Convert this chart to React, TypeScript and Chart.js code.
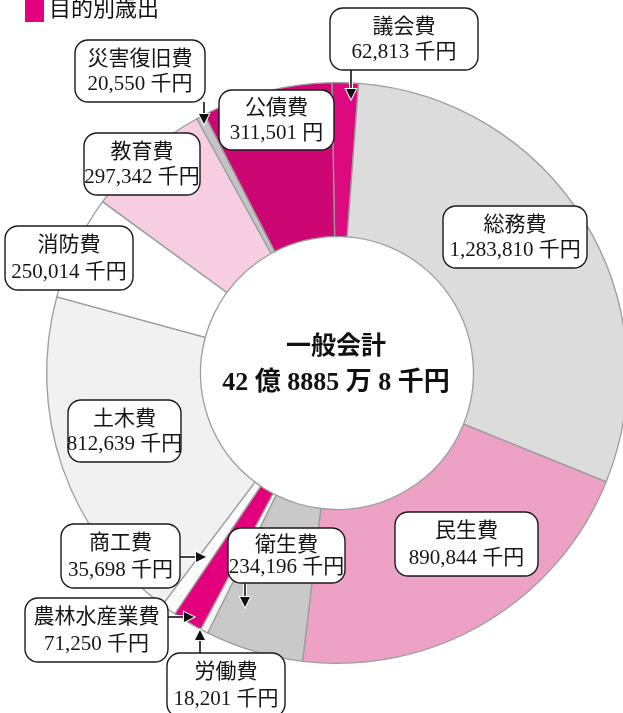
import React, { useEffect, useRef } from "react";
import { Chart, registerables } from "chart.js";

Chart.register(...registerables);

const categories = ["議会費", "総務費", "民生費", "衛生費", "労働費", "農林水産業費", "商工費", "土木費", "消防費", "教育費", "災害復旧費", "公債費"];
const values = [62813, 1283810, 890844, 234196, 18201, 71250, 35698, 812639, 250014, 297342, 20550, 311501];
const units = ["千円", "千円", "千円", "千円", "千円", "千円", "千円", "千円", "千円", "千円", "千円", "円"];
const colors = ["#dc0a7e", "#dcdcdc", "#eda2c5", "#c9c9c9", "#f4f4f4", "#e2007c", "#fbfbfb", "#f1f1f1", "#ffffff", "#f6cde1", "#c4c4c4", "#cc0672"];

const titleText = "目的別歳出";
const centerTitle = "一般会計";
const centerTotal = "42 億 8885 万 8 千円";

// label box layout (pixels) and arrow [from, to]
const boxLayout: { x: number; y: number; w: number; h: number; arrow?: number[] }[] = [
  { x: 330, y: 8, w: 148, h: 62, arrow: [351, 70, 351, 99] },
  { x: 443, y: 206, w: 144, h: 62 },
  { x: 395, y: 512, w: 143, h: 64 },
  { x: 228, y: 528, w: 117, h: 55, arrow: [245, 583, 245, 607] },
  { x: 167, y: 653, w: 118, h: 64, arrow: [200, 653, 200, 630] },
  { x: 25, y: 598, w: 143, h: 64, arrow: [168, 617, 194, 617] },
  { x: 61, y: 524, w: 119, h: 64, arrow: [180, 557, 206, 557] },
  { x: 68, y: 400, w: 113, h: 62 },
  { x: 5, y: 226, w: 128, h: 64 },
  { x: 84, y: 133, w: 116, h: 62 },
  { x: 75, y: 40, w: 130, h: 62, arrow: [204, 102, 204, 124] },
  { x: 219, y: 90, w: 115, h: 60 },
];

const FONT = '"Liberation Serif", "DejaVu Serif", "Noto Sans CJK JP", serif';

function fmt(n: number) {
  return n.toLocaleString("en-US");
}

const overlayPlugin = {
  id: "overlay",
  afterDraw(chart: any) {
    const ctx = chart.ctx as CanvasRenderingContext2D;
    ctx.save();
    // title
    ctx.fillStyle = "#e4007f";
    ctx.fillRect(25, 0, 19, 22);
    ctx.fillStyle = "#111";
    ctx.font = `22px ${FONT}`;
    ctx.textAlign = "left";
    ctx.textBaseline = "middle";
    ctx.fillText(titleText, 49, 10);

    // center
    const meta = chart.getDatasetMeta(0);
    const arc = meta.data[0];
    const cx = arc.x;
    const cy = arc.y;
    ctx.textAlign = "center";
    ctx.font = `bold 25px ${FONT}`;
    ctx.fillText(centerTitle, cx - 1, cy - 25);
    ctx.font = `bold 26px ${FONT}`;
    ctx.fillText(centerTotal, cx - 1, cy + 10);

    // label boxes
    categories.forEach((cat, i) => {
      const b = boxLayout[i];
      if (b.arrow) {
        const [x1, y1, x2, y2] = b.arrow;
        const ang = Math.atan2(y2 - y1, x2 - x1);
        const hl = 10;
        const hw = 5;
        const bx = x2 - hl * Math.cos(ang);
        const by = y2 - hl * Math.sin(ang);
        ctx.lineCap = "butt";
        ctx.strokeStyle = "#ffffff";
        ctx.lineWidth = 4;
        ctx.beginPath();
        ctx.moveTo(x1, y1);
        ctx.lineTo(bx, by);
        ctx.stroke();
        ctx.strokeStyle = "#111";
        ctx.lineWidth = 1.6;
        ctx.beginPath();
        ctx.moveTo(x1, y1);
        ctx.lineTo(bx, by);
        ctx.stroke();
        ctx.beginPath();
        ctx.moveTo(x2, y2);
        ctx.lineTo(bx - hw * Math.sin(ang), by + hw * Math.cos(ang));
        ctx.lineTo(bx + hw * Math.sin(ang), by - hw * Math.cos(ang));
        ctx.closePath();
        ctx.strokeStyle = "#ffffff";
        ctx.lineWidth = 2;
        ctx.stroke();
        ctx.fillStyle = "#111";
        ctx.fill();
      }
      ctx.beginPath();
      ctx.roundRect(b.x, b.y, b.w, b.h, 13);
      ctx.fillStyle = "#ffffff";
      ctx.fill();
      ctx.strokeStyle = "#1a1a1a";
      ctx.lineWidth = 1.4;
      ctx.stroke();
      ctx.fillStyle = "#151515";
      ctx.font = `21px ${FONT}`;
      ctx.textAlign = "center";
      ctx.textBaseline = "middle";
      const mx = b.x + b.w / 2;
      ctx.fillText(cat, mx, b.y + b.h * 0.31);
      ctx.fillText(`${fmt(values[i])} ${units[i]}`, mx, b.y + b.h * 0.72);
    });
    ctx.restore();
  },
};

export default function App() {
  const ref = useRef<HTMLCanvasElement>(null);
  useEffect(() => {
    if (!ref.current) return;
    const chart = new Chart(ref.current, {
      type: "doughnut",
      data: {
        labels: categories,
        datasets: [
          {
            data: values,
            backgroundColor: colors,
            borderColor: "#9c9c9c",
            borderWidth: 1.3,
          },
        ],
      },
      options: {
        responsive: false,
        animation: false,
        rotation: -1,
        cutout: "47%",
        layout: { padding: { left: 46, top: 82, right: 72, bottom: 49 } },
        plugins: {
          legend: { display: false },
          tooltip: { enabled: false },
        },
      },
      plugins: [overlayPlugin],
    });
    return () => chart.destroy();
  }, []);
  return (
    <div style={{ position: "absolute", left: 0, top: 0, width: 623, height: 713, overflow: "hidden", background: "#fff" }}>
      <canvas ref={ref} width={700} height={713} style={{ display: "block" }} />
    </div>
  );
}
